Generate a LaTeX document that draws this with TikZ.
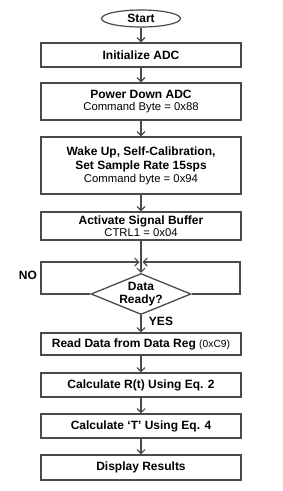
\documentclass[tikz,border=0pt]{standalone}
\usepackage{fontspec}
\setmainfont{Liberation Sans}
\usetikzlibrary{shapes.geometric,arrows.meta}
\definecolor{ln}{HTML}{4A4A4A}
\tikzset{
  boxnode/.style={draw=ln, line width=1.4pt, fill=white, minimum width=200pt, inner sep=0pt, align=center, font=\fontsize{12}{14}\selectfont\bfseries},
  conn/.style={draw=ln, line width=1.3pt, -{Straight Barb[length=4pt,width=8pt,line width=1.1pt]}},
  lbl/.style={font=\fontsize{12}{14}\selectfont\bfseries, inner sep=0pt}
}
\newcommand{\subtxt}[1]{{\fontsize{11.3}{13}\selectfont\mdseries #1}}
\begin{document}
\begin{tikzpicture}[x=1pt,y=-1pt]
\useasboundingbox (0,0) rectangle (283,491);
\node[ellipse, draw=ln, line width=1.2pt, minimum width=79pt, minimum height=17pt, inner sep=0pt, font=\fontsize{12}{14}\selectfont\bfseries] (start) at (141,18.5) {Start};
\node[boxnode, minimum height=24pt] (init) at (141,55) {Initialize ADC};
\node[boxnode, minimum height=37pt] (pd) at (141,101.5) {Power Down ADC\\[-2pt]\subtxt{Command Byte = 0x88}};
\node[boxnode, minimum height=57pt] (wake) at (141,165.5) {Wake Up, Self-Calibration,\\[0pt]Set Sample Rate 15sps\\[-1pt]\subtxt{Command byte = 0x94}};
\node[boxnode, minimum height=28pt] (act) at (141,226) {Activate Signal Buffer\\[-2.5pt]\subtxt{CTRL1 = 0x04}};
\node[diamond, draw=ln, line width=1.3pt, minimum width=100pt, minimum height=41pt, inner sep=0pt] (dec) at (141,294) {};
\node[lbl, align=center] (dectext) at (141,294) {Data\\[-1pt]Ready?};
\node[boxnode, minimum height=22pt] (read) at (141,344) {Read Data from Data Reg {\fontsize{10.3}{12}\selectfont\mdseries (0xC9)}};
\node[boxnode, minimum height=24pt] (rt) at (141,385) {Calculate R(t) Using Eq. 2};
\node[boxnode, minimum height=24pt] (tt) at (141,426) {Calculate ‘T’ Using Eq. 4};
\node[boxnode, minimum height=25pt] (disp) at (141,467.5) {Display Results};
\coordinate (merge) at (141,262);
\coordinate (lb) at (41,294);
\coordinate (lt) at (41,262);
\coordinate (rb) at (240,294);
\coordinate (rtop) at (240,262);
\node[lbl] (no) at (28,275) {NO};
\node[lbl] (yes) at (161,321) {YES};
\draw[conn] (start) -- (init);
\draw[conn] (init) -- (pd);
\draw[conn] (pd) -- (wake);
\draw[conn] (wake) -- (act);
\draw[conn] (act) -- (dec.north);
\draw[conn, shorten >=1.5pt] (dec.west) -- (lb) -- (lt) -- (merge);
\draw[conn, shorten >=1.5pt] (dec.east) -- (rb) -- (rtop) -- (merge);
\draw[conn] (dec.south) -- (read);
\draw[conn] (read) -- (rt);
\draw[conn] (rt) -- (tt);
\draw[conn] (tt) -- (disp);
\end{tikzpicture}
\end{document}
